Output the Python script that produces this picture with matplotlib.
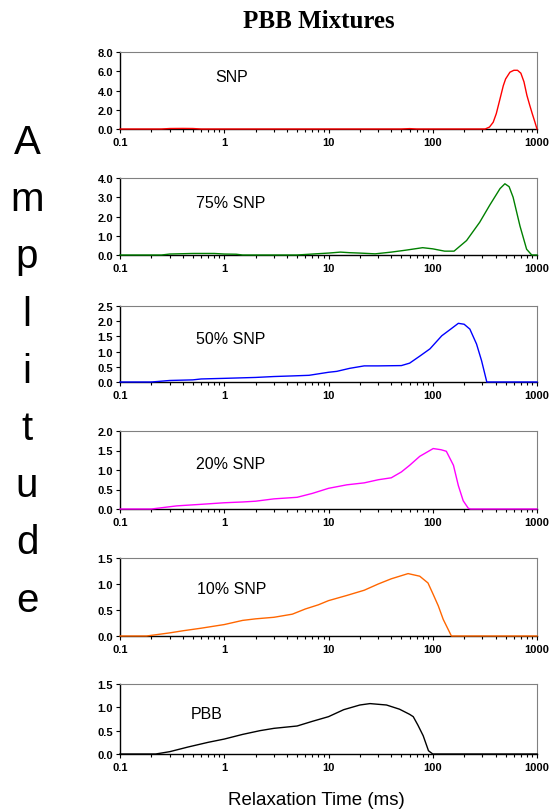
import numpy as np
import matplotlib
matplotlib.use("Agg")
from matplotlib import pyplot as plt
from matplotlib.ticker import FixedLocator, FixedFormatter, LogLocator, NullFormatter

# relaxation time distributions, one panel per sample
labels = ["SNP", "75% SNP", "50% SNP", "20% SNP", "10% SNP", "PBB"]
colors = ["#FF0000", "#008000", "#0000FF", "#FF00FF", "#FF6600", "#000000"]
ymaxes = [8.0, 4.0, 2.5, 2.0, 1.5, 1.5]
ysteps = [2.0, 1.0, 0.5, 0.5, 0.5, 0.5]

snp_t = [0.1, 0.25, 0.3, 0.4, 0.5, 0.6, 50, 60, 70, 318, 350, 380, 407, 441, 475,
         500, 550, 600, 650, 700, 750, 800, 850, 900, 950, 1000]
snp_a = [0, 0, 0.05, 0.06, 0.05, 0, 0, 0.04, 0, 0, 0.2, 0.7, 1.6, 3.1, 4.5,
         5.2, 5.9, 6.1, 6.1, 5.8, 4.9, 3.5, 2.5, 1.6, 0.8, 0]

snp75_t = [0.1, 0.25, 0.3, 0.5, 0.8, 1.0, 1.3, 1.5, 5, 7, 10, 13, 16, 20, 28, 40, 55,
           80, 100, 130, 160, 211, 282, 353, 442, 492, 540, 590, 687, 795, 890, 1000]
snp75_a = [0, 0, 0.05, 0.08, 0.08, 0.05, 0.04, 0, 0, 0.05, 0.1, 0.15, 0.12, 0.1, 0.06,
           0.15, 0.25, 0.38, 0.32, 0.2, 0.2, 0.75, 1.7, 2.6, 3.45, 3.7, 3.55, 3.0, 1.5,
           0.3, 0, 0]

snp50_t = [0.1, 0.2, 0.3, 0.5, 0.6, 1.0, 2.0, 3.0, 4.5, 6.5, 10, 12, 16, 22, 30, 50,
           60, 75, 94, 122, 150, 176, 200, 227, 263, 294, 330, 1000]
snp50_a = [0, 0, 0.05, 0.07, 0.1, 0.12, 0.15, 0.18, 0.2, 0.22, 0.32, 0.35, 0.45, 0.53,
           0.53, 0.54, 0.62, 0.85, 1.09, 1.52, 1.75, 1.93, 1.9, 1.74, 1.25, 0.7, 0, 0]

snp20_t = [0.1, 0.2, 0.35, 0.6, 1.0, 1.5, 2, 3, 5, 7, 10, 15, 22, 30, 40, 50, 60, 75,
           101, 120, 135, 158, 176, 196, 219, 230, 1000]
snp20_a = [0, 0, 0.08, 0.12, 0.16, 0.18, 0.2, 0.26, 0.3, 0.4, 0.53, 0.62, 0.67, 0.75,
           0.8, 0.95, 1.12, 1.35, 1.55, 1.52, 1.48, 1.12, 0.6, 0.21, 0.02, 0, 0]

snp10_t = [0.1, 0.18, 0.3, 0.4, 0.6, 1.0, 1.5, 2, 3, 4.5, 6, 8, 10, 15, 22, 30, 40, 58,
           75, 90, 101, 113, 126, 151, 1000]
snp10_a = [0, 0, 0.06, 0.1, 0.15, 0.22, 0.3, 0.33, 0.36, 0.42, 0.52, 0.6, 0.68, 0.78,
           0.88, 1.0, 1.1, 1.2, 1.15, 1.02, 0.8, 0.58, 0.32, 0, 0]

pbb_t = [0.1, 0.22, 0.3, 0.45, 0.7, 1.0, 1.5, 2.2, 3, 5, 7, 10, 14, 20, 25, 36, 48,
         60, 65, 72, 81, 91, 100, 1000]
pbb_a = [0, 0, 0.05, 0.15, 0.25, 0.32, 0.42, 0.5, 0.55, 0.6, 0.7, 0.8, 0.95, 1.05,
         1.08, 1.05, 0.96, 0.85, 0.8, 0.62, 0.39, 0.07, 0, 0]

times = [snp_t, snp75_t, snp50_t, snp20_t, snp10_t, pbb_t]
amps = [snp_a, snp75_a, snp50_a, snp20_a, snp10_a, pbb_a]

W, H = 553, 812
fig = plt.figure(figsize=(W / 100, H / 100), dpi=100)
plt.rcParams["font.family"] = ["Liberation Sans", "DejaVu Sans"]

# panel frames in pixels: (top, bottom)
frames = [(53, 130), (179, 256), (307, 383), (432, 510), (559, 637), (685, 755)]
left, right = 120, 537
label_pos = [(215, 77), (196, 203), (196, 340), (196, 465), (197, 590), (191, 715)]

xmajor = [0.1, 1, 10, 100, 1000]
xlabels = ["0.1", "1", "10", "100", "1000"]

for i in range(len(labels)):
    top, bot = frames[i]
    ax = fig.add_axes([left / W, 1 - bot / H, (right - left) / W, (bot - top) / H])
    ax.plot(times[i], amps[i], color=colors[i], lw=1.0, clip_on=False, zorder=3)
    ax.set_xscale("log")
    ax.set_xlim(0.1, 1000)
    ax.set_ylim(0, ymaxes[i])
    ax.xaxis.set_major_locator(FixedLocator(xmajor))
    ax.xaxis.set_major_formatter(FixedFormatter(xlabels))
    ax.xaxis.set_minor_locator(LogLocator(base=10, subs=np.arange(2, 10)))
    ax.xaxis.set_minor_formatter(NullFormatter())
    yt = np.arange(0, ymaxes[i] + 1e-9, ysteps[i])
    ax.set_yticks(yt)
    ax.set_yticklabels([f"{v:.1f}" for v in yt])
    ax.tick_params(axis="both", which="major", direction="out", length=3, width=0.8,
                   labelsize=8, pad=2)
    ax.tick_params(axis="x", which="minor", direction="out", length=2, width=0.8)
    ax.tick_params(axis="x", which="major", pad=3)
    for lab in ax.get_xticklabels() + ax.get_yticklabels():
        lab.set_fontweight("bold")
    for s in ("top", "right"):
        ax.spines[s].set_color("#808080")
        ax.spines[s].set_linewidth(0.8)
    for s in ("left", "bottom"):
        ax.spines[s].set_color("black")
        ax.spines[s].set_linewidth(1.0)
    lx, ly = label_pos[i]
    fig.text(lx / W, 1 - ly / H, labels[i], fontsize=11.5, ha="left", va="center")

fig.text(319 / W, 1 - 22 / H, "PBB Mixtures", fontsize=18, fontweight="bold",
         family=["Liberation Serif", "DejaVu Serif"], ha="center", va="center")
fig.text(316 / W, 1 - 801 / H, "Relaxation Time (ms)", fontsize=13.5,
         ha="center", va="center")

# vertical y label, one letter per line
for k, ch in enumerate("Amplitude"):
    fig.text(27 / W, 1 - (154 + k * 57.2) / H, ch, fontsize=29,
             ha="center", va="baseline")

fig.savefig("out.png", dpi=100)
